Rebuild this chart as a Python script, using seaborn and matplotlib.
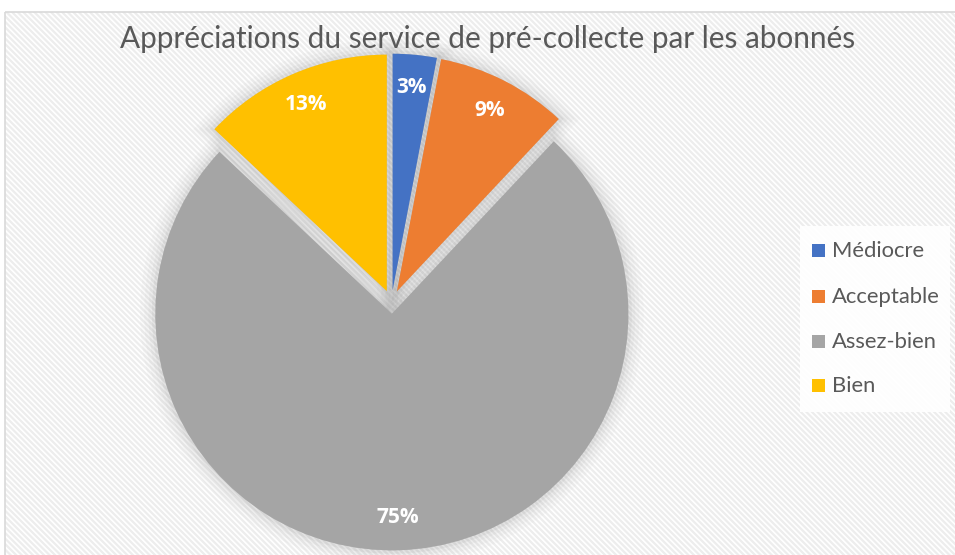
import matplotlib
matplotlib.use("Agg")
import matplotlib.pyplot as plt
import seaborn as sns
from matplotlib.patches import Rectangle

sns.set_theme(style="white")
plt.rcParams['font.family'] = ['Lato', 'DejaVu Sans']
plt.rcParams['hatch.color'] = '#ededed'
plt.rcParams['hatch.linewidth'] = 1.6

title = "Appréciations du service de pré-collecte par les abonnés"
categories = ["Médiocre", "Acceptable", "Assez-bien", "Bien"]
values = [3, 9, 75, 13]
labels_pct = ["3%", "9%", "75%", "13%"]
colors = ["#4472C4", "#ED7D31", "#A5A5A5", "#FFC000"]

W, H = 955, 555
fig = plt.figure(figsize=(W / 100, H / 100), dpi=100)

# background frame with hatch
bg = fig.add_axes([0, 0, 1, 1])
bg.set_xlim(0, W)
bg.set_ylim(H, 0)
bg.axis('off')
bg.add_patch(Rectangle((5, 12), W + 10, H, facecolor='white', edgecolor='none', zorder=0))
bg.add_patch(Rectangle((5, 12), W + 10, H, facecolor='none', edgecolor='#ededed',
                       hatch='\\\\\\\\\\\\', linewidth=0, zorder=1))
bg.add_patch(Rectangle((5, 12), W + 10, H, facecolor='none', edgecolor='#d9d9d9',
                       linewidth=1.2, zorder=2))

# pie axes
R = 236.5
cx, cy = 391.5, 302.0
ax = fig.add_axes([0, 0, 1, 1])
ax.patch.set_alpha(0)
explode = [0.05] * len(values)

# soft shadow/glow
for lw, a in [(22, 0.035), (16, 0.045), (10, 0.06), (5, 0.09)]:
    ax.pie(values, startangle=90, counterclock=False, explode=explode,
           colors=['#808080'] * 4, radius=1.0,
           wedgeprops=dict(edgecolor='#808080', linewidth=lw, alpha=a))

wedges, _, autotexts = ax.pie(values, startangle=90, counterclock=False, explode=explode,
                              colors=colors, autopct='%1.0f%%', pctdistance=0.86,
                              wedgeprops=dict(edgecolor='none', linewidth=0),
                              textprops=dict(color='white', fontsize=15, fontweight='bold'))
for t, lab in zip(autotexts, labels_pct):
    t.set_text(lab)
    t.set_fontfamily(['Open Sans', 'DejaVu Sans'])

ax.set_xlim(-cx / R, (W - cx) / R)
ax.set_ylim((cy - H) / R, cy / R)
ax.set_aspect('auto')
ax.axis('off')

fig.text(488 / W, 1 - 39 / H, title, ha='center', va='center', fontsize=21.4,
         color='#595959')

# legend
bg.add_patch(Rectangle((800, 226), 150, 186, facecolor='white', edgecolor='none', alpha=0.9, zorder=3))
ypos = [251, 297, 342, 386]
for cat, col, yy in zip(categories, colors, ypos):
    bg.add_patch(Rectangle((812, yy - 7), 13, 13, facecolor=col, edgecolor='none', zorder=4))
    bg.text(832, yy, cat, ha='left', va='center', fontsize=15.8, color='#595959', zorder=5,
            family=['Lato', 'DejaVu Sans'])

fig.savefig("out.png", dpi=100)
